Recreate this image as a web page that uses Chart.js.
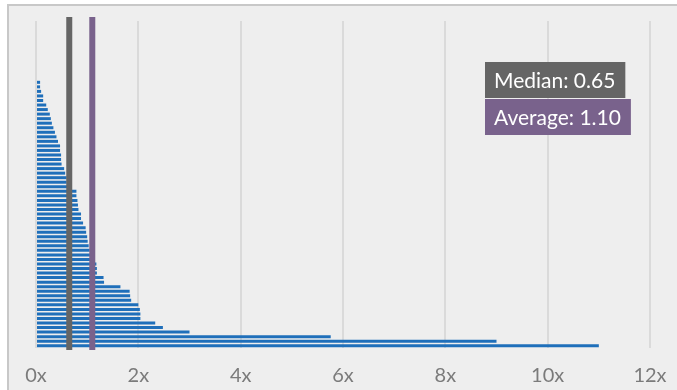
<!DOCTYPE html>
<html>
<head>
<meta charset="utf-8">
<style>
  html, body { margin: 0; padding: 0; background: #ffffff; }
  #wrap { width: 677px; height: 390px; }
  canvas { display: block; }
</style>
<script src="https://cdn.jsdelivr.net/npm/chart.js@4"></script>
</head>
<body>
<div id="wrap"><canvas id="chart" width="677" height="390"></canvas></div>
<script>
// Valuation multiples, ranked from smallest to largest (empty slots carry no bar)
const multiples = [
  null, null, null, null, null, null, null, null, null, null, null, null, null,
  0.08, 0.08, 0.10, 0.14, 0.14, 0.20, 0.23, 0.27, 0.29, 0.31,
  0.34, 0.37, 0.40, 0.43,
  0.47, 0.47, 0.49, 0.49, 0.50, 0.55, 0.57, 0.60, 0.60,
  0.69, 0.79, 0.79, 0.81, 0.82, 0.83, 0.88, 0.88, 0.92, 0.97,
  0.98, 1.00, 1.01, 1.03, 1.05,
  1.07, 1.10, 1.18, 1.19, 1.19, 1.32, 1.33,
  1.65, 1.83, 1.84, 1.86, 2.00, 2.03, 2.04, 2.04, 2.33, 2.48, 3.00,
  5.76, 9.00, 11.00
];
// Rank labels for the category axis (not displayed)
const ranks = multiples.map((_, i) => String(i + 1));

// Summary statistics shown as reference lines
const medianValue = 0.65;
const averageValue = 1.10;

// Axis ticks
const xTicks = [0, 2, 4, 6, 8, 10, 12];

const FONT = 'Lato, "Open Sans", sans-serif';
const BAR_BLUE = '#1f6fba';
const MEDIAN_GREY = '#656565';
const AVERAGE_PURPLE = '#79628c';

// Light grey panel with a thin border on the top and left edges
const panelPlugin = {
  id: 'panel',
  beforeDraw(chart) {
    const ctx = chart.ctx;
    ctx.save();
    ctx.fillStyle = '#ffffff';
    ctx.fillRect(0, 0, chart.width, chart.height);
    ctx.fillStyle = '#c8c8c8';
    ctx.fillRect(7, 4, chart.width - 7, chart.height - 4);
    ctx.fillStyle = '#eeeeee';
    ctx.fillRect(9, 6, chart.width - 9, chart.height - 6);
    ctx.restore();
  }
};

// Vertical median / average lines placed through the x scale
const refLinePlugin = {
  id: 'refLines',
  afterDatasetsDraw(chart) {
    const { ctx, chartArea, scales } = chart;
    const lines = [
      { value: medianValue, color: MEDIAN_GREY },
      { value: averageValue, color: AVERAGE_PURPLE }
    ];
    ctx.save();
    lines.forEach(l => {
      const x = scales.x.getPixelForValue(l.value);
      ctx.fillStyle = l.color;
      ctx.fillRect(x - 3, chartArea.top - 4, 6, chartArea.bottom - chartArea.top + 6);
    });
    ctx.restore();
  }
};

// Legend-style value boxes
const statBoxPlugin = {
  id: 'statBoxes',
  afterDraw(chart) {
    const ctx = chart.ctx;
    const boxes = [
      { text: 'Median: ' + medianValue.toFixed(2), color: MEDIAN_GREY, y: 62, h: 36 },
      { text: 'Average: ' + averageValue.toFixed(2), color: AVERAGE_PURPLE, y: 99, h: 36 }
    ];
    ctx.save();
    ctx.font = '21px ' + FONT;
    ctx.textBaseline = 'middle';
    ctx.textAlign = 'left';
    boxes.forEach(b => {
      const w = ctx.measureText(b.text).width + 19;
      ctx.fillStyle = b.color;
      ctx.fillRect(485, b.y, w, b.h);
      ctx.fillStyle = '#ffffff';
      ctx.fillText(b.text, 494, b.y + b.h / 2 + 1);
    });
    ctx.restore();
  }
};

new Chart(document.getElementById('chart'), {
  type: 'bar',
  data: {
    labels: ranks,
    datasets: [{
      data: multiples,
      backgroundColor: BAR_BLUE,
      borderWidth: 0,
      barPercentage: 0.75,
      categoryPercentage: 0.88
    }]
  },
  options: {
    indexAxis: 'y',
    responsive: false,
    animation: false,
    layout: { padding: { left: 36, right: 27, top: 21, bottom: 2 } },
    plugins: {
      legend: { display: false },
      tooltip: { enabled: false },
      title: { display: false }
    },
    scales: {
      x: {
        type: 'linear',
        min: 0,
        max: 12,
        afterBuildTicks(scale) {
          scale.ticks = xTicks.map(v => ({ value: v }));
        },
        afterFit(scale) {
          // Fixed axis band; the end labels fit inside the outer padding
          scale.height = 40;
          scale.paddingLeft = 0;
          scale.paddingRight = 0;
        },
        ticks: {
          color: '#7b7b7b',
          font: { family: FONT, size: 20 },
          padding: 16,
          callback: v => v + 'x'
        },
        grid: {
          color: '#dadada',
          lineWidth: 2,
          drawTicks: false
        },
        border: { display: false }
      },
      y: {
        display: false,
        grid: { display: false }
      }
    }
  },
  plugins: [panelPlugin, refLinePlugin, statBoxPlugin]
});
</script>
</body>
</html>
